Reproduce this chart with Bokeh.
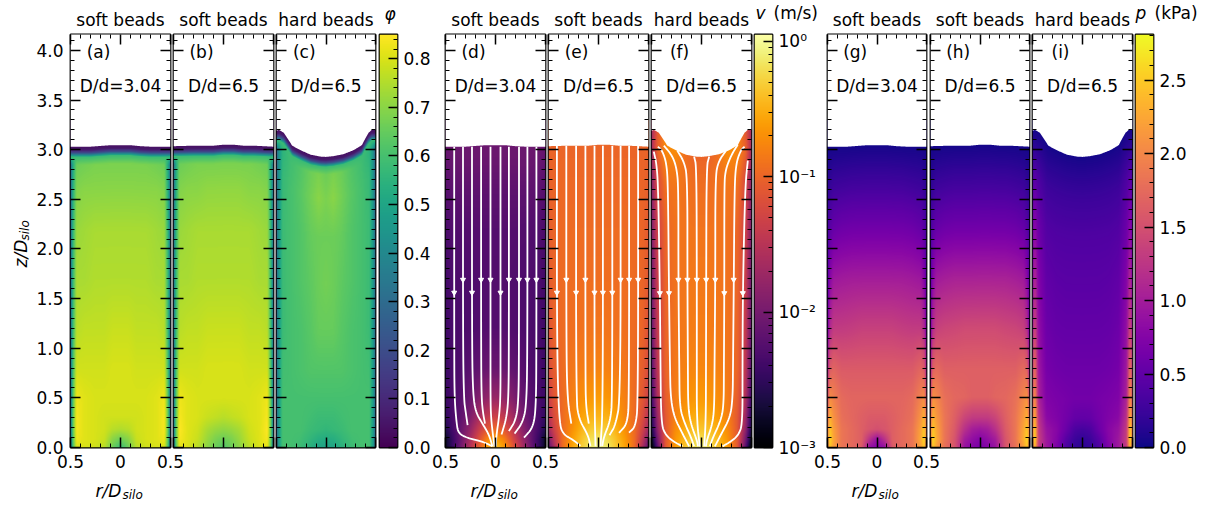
import math
import numpy as np
from bokeh.plotting import figure
from bokeh.layouts import row
from bokeh.embed import file_html
from bokeh.resources import INLINE
from bokeh.models import LinearColorMapper, Label, LinearAxis, FixedTicker, CustomLabelingPolicy
from bokeh.palettes import Viridis256, Inferno256, Plasma256

# ---- values
titles = ["soft beads", "soft beads", "hard beads"]
ratios = ["D/d=3.04", "D/d=6.5", "D/d=6.5"]
panel_tags = ["(a)", "(b)", "(c)", "(d)", "(e)", "(f)", "(g)", "(h)", "(i)"]
z_ticks = [0.0, 0.5, 1.0, 1.5, 2.0, 2.5, 3.0, 3.5, 4.0]
z_tick_labels = ["0.0", "0.5", "1.0", "1.5", "2.0", "2.5", "3.0", "3.5", "4.0"]
r_ticks = [-0.5, 0.0, 0.5]
r_tick_labels = ["0.5", "0", "0.5"]

R_NODES = [0.0, 0.08, 0.16, 0.26, 0.36, 0.44, 0.48, 0.5]
Z_NODES = [0.0, 0.08, 0.18, 0.3, 0.5, 0.8, 1.2, 1.7, 2.2, 2.6, 2.85, 3.04]
PHI_Z_NODES = Z_NODES[:-1] + [2.93, 2.97, 3.0, 3.04]
phi_band = [0.58, 0.2, 0.06, 0.03]

surf_r_soft = [-0.5, -0.3, -0.1, 0.0, 0.1, 0.2, 0.3, 0.5]
surf_z_a = [3.03, 3.03, 3.045, 3.045, 3.045, 3.035, 3.03, 3.03]
surf_z_b = [3.035, 3.04, 3.04, 3.05, 3.05, 3.04, 3.04, 3.03]
surf_r_hard = [-0.5, -0.476, -0.426, -0.376, -0.342, -0.258, -0.158, -0.057, 0.0,
               0.077, 0.178, 0.279, 0.362, 0.396, 0.43, 0.463, 0.5]
surf_z_hard = [3.19, 3.20, 3.17, 3.095, 3.04, 2.995, 2.95, 2.93, 2.927,
               2.935, 2.955, 2.995, 3.045, 3.11, 3.17, 3.20, 3.20]

phi_a = [[.58,.66,.76,.79,.80,.80,.58,.25],[.66,.70,.78,.80,.81,.83,.60,.25],[.75,.76,.79,.80,.81,.84,.62,.25],
         [.79,.79,.79,.80,.81,.84,.62,.25],[.80,.80,.80,.80,.81,.83,.60,.25],[.80,.80,.79,.79,.79,.79,.58,.25],
         [.78,.78,.77,.77,.77,.76,.56,.25],[.75,.75,.75,.75,.74,.74,.55,.25],[.74,.74,.74,.74,.73,.72,.54,.25],
         [.70,.70,.70,.70,.70,.69,.52,.25],[.68,.68,.68,.68,.67,.66,.50,.25]]
phi_b = [[.62,.66,.70,.76,.80,.82,.60,.25],[.66,.68,.72,.78,.81,.84,.62,.25],[.71,.72,.74,.79,.81,.85,.62,.25],
         [.76,.77,.78,.80,.81,.84,.62,.25],[.80,.80,.80,.80,.81,.83,.60,.25],[.80,.80,.80,.79,.79,.79,.58,.25],
         [.78,.78,.78,.77,.77,.76,.56,.25],[.75,.75,.75,.75,.74,.74,.55,.25],[.74,.74,.74,.74,.73,.72,.54,.25],
         [.71,.71,.71,.70,.70,.69,.52,.25],[.68,.68,.68,.68,.67,.66,.50,.25]]
phi_c = [[.49,.50,.54,.58,.60,.60,.46,.25],[.52,.53,.56,.59,.60,.60,.46,.25],[.56,.57,.58,.60,.60,.60,.46,.25],
         [.58,.58,.59,.60,.60,.60,.46,.25],[.60,.60,.60,.60,.60,.60,.46,.25],[.62,.62,.62,.61,.60,.59,.46,.25],
         [.65,.65,.63,.61,.60,.58,.45,.25],[.67,.66,.64,.62,.60,.58,.45,.25],[.66,.66,.65,.62,.60,.58,.44,.25],
         [.68,.70,.67,.63,.60,.57,.43,.25],[.66,.68,.66,.62,.59,.55,.42,.22]]

log_v_d = [[-.35,-.6,-1.0,-1.55,-2.1,-2.5,-2.7,-2.8],[-.55,-.75,-1.15,-1.65,-2.15,-2.5,-2.7,-2.8],
           [-.95,-1.1,-1.35,-1.8,-2.15,-2.4,-2.55,-2.6],[-1.3,-1.4,-1.6,-1.95,-2.2,-2.35,-2.45,-2.5],
           [-1.75,-1.8,-1.9,-2.1,-2.25,-2.35,-2.4,-2.45],[-2.1,-2.1,-2.15,-2.22,-2.3,-2.35,-2.4,-2.45],
           [-2.25,-2.25,-2.27,-2.3,-2.32,-2.35,-2.38,-2.42],[-2.27,-2.27,-2.28,-2.3,-2.3,-2.32,-2.35,-2.4],
           [-2.25,-2.25,-2.25,-2.26,-2.27,-2.28,-2.3,-2.35],[-2.18,-2.18,-2.18,-2.18,-2.18,-2.2,-2.22,-2.25],
           [-2.1,-2.1,-2.1,-2.1,-2.1,-2.12,-2.14,-2.18],[-2.08,-2.08,-2.08,-2.08,-2.08,-2.08,-2.1,-2.12]]
log_v_e = [[-.05,-.12,-.3,-.55,-.95,-1.6,-2.0,-2.1],[-.15,-.2,-.35,-.6,-.95,-1.45,-1.8,-1.95],
           [-.3,-.33,-.45,-.68,-.95,-1.3,-1.55,-1.7],[-.45,-.47,-.55,-.75,-.95,-1.2,-1.4,-1.5],
           [-.62,-.65,-.7,-.8,-.95,-1.1,-1.25,-1.35],[-.78,-.8,-.82,-.86,-.95,-1.05,-1.15,-1.25],
           [-.88,-.88,-.9,-.92,-.95,-1.0,-1.1,-1.2],[-.93,-.93,-.93,-.94,-.95,-1.0,-1.05,-1.15],
           [-.95,-.95,-.95,-.95,-.96,-1.0,-1.05,-1.1],[-.97,-.97,-.97,-.97,-.97,-1.0,-1.02,-1.08],
           [-.98,-.98,-.98,-.98,-.98,-1.0,-1.02,-1.05],[-1.0,-1.0,-1.0,-1.0,-1.0,-1.0,-1.0,-1.02]]
log_v_f = [[-.1,-.2,-.35,-.6,-1.1,-2.2,-2.8,-2.95],[-.2,-.28,-.42,-.65,-1.1,-2.0,-2.6,-2.85],
           [-.35,-.38,-.5,-.72,-1.1,-1.8,-2.4,-2.7],[-.47,-.5,-.6,-.78,-1.1,-1.7,-2.3,-2.6],
           [-.62,-.65,-.7,-.82,-1.05,-1.55,-2.1,-2.4],[-.75,-.75,-.78,-.85,-1.0,-1.45,-1.95,-2.3],
           [-.82,-.82,-.84,-.88,-1.0,-1.4,-1.85,-2.2],[-.85,-.85,-.87,-.9,-1.0,-1.35,-1.8,-2.1],
           [-.88,-.88,-.88,-.9,-1.0,-1.3,-1.7,-2.0],[-.92,-.92,-.9,-.88,-.92,-1.2,-1.6,-1.9],
           [-.95,-.95,-.9,-.82,-.8,-1.0,-1.4,-1.7],[-1.0,-1.0,-.92,-.7,-.72,-1.1,-1.45,-1.7]]

p_g = [[.75,.85,1.6,1.75,1.85,2.2,2.5,1.6],[.85,1.2,1.65,1.75,1.85,2.25,2.6,1.8],[1.5,1.55,1.65,1.75,1.85,2.2,2.5,1.8],
       [1.6,1.6,1.65,1.72,1.8,2.1,2.35,1.6],[1.7,1.7,1.7,1.7,1.75,1.95,2.05,1.3],[1.6,1.6,1.6,1.6,1.6,1.7,1.6,.9],
       [1.35,1.35,1.35,1.32,1.3,1.3,1.1,.55],[1.0,1.0,1.0,1.0,.98,.95,.75,.35],[.62,.62,.62,.62,.6,.55,.45,.25],
       [.32,.32,.32,.32,.3,.28,.22,.14],[.15,.15,.15,.15,.14,.13,.1,.07],[.03,.03,.03,.03,.03,.03,.03,.03]]
p_h = [[.65,.75,.9,1.55,1.8,2.2,2.5,1.6],[.75,.85,1.0,1.55,1.85,2.3,2.6,1.8],[.95,1.0,1.2,1.6,1.85,2.25,2.5,1.8],
       [1.3,1.3,1.4,1.65,1.85,2.15,2.35,1.6],[1.65,1.65,1.7,1.72,1.8,2.0,2.1,1.3],[1.65,1.65,1.65,1.65,1.65,1.75,1.65,.9],
       [1.45,1.45,1.45,1.42,1.4,1.35,1.15,.55],[1.05,1.05,1.05,1.05,1.02,.98,.78,.35],[.62,.62,.62,.62,.6,.55,.45,.25],
       [.32,.32,.32,.32,.3,.28,.22,.14],[.15,.15,.15,.15,.14,.13,.1,.07],[.03,.03,.03,.03,.03,.03,.03,.03]]
p_i = [[.15,.2,.35,.7,.95,1.3,2.5,1.4],[.18,.25,.42,.75,.95,1.35,2.7,1.6],[.3,.35,.55,.78,.9,1.3,2.6,1.6],
       [.5,.52,.62,.72,.8,1.2,2.35,1.5],[.62,.62,.65,.68,.72,1.05,2.1,1.3],[.58,.58,.58,.6,.65,.95,1.8,1.1],
       [.52,.52,.52,.53,.58,.85,1.4,.8],[.45,.45,.45,.46,.5,.72,1.1,.6],[.38,.38,.38,.38,.4,.55,.75,.45],
       [.25,.25,.25,.25,.26,.35,.45,.25],[.13,.13,.13,.13,.13,.15,.18,.15],[.03,.03,.03,.03,.03,.03,.03,.03]]

stream_d = [
    ([-.413,-.413,-.41,-.39,-.372,-.285,-.12,-.033], [3.03,1.0,.5,.25,.144,.097,.056,.013]),
    ([-.325,-.325,-.315,-.30,-.279], [3.03,1.0,.48,.37,.225]),
    ([-.235,-.235,-.225,-.2,-.13,-.065,-.03], [3.03,1.0,.55,.36,.24,.13,.01]),
    ([-.144,-.144,-.14,-.125,-.105], [3.03,1.0,.5,.35,.24]),
    ([-.05,-.05,-.05,-.045,-.025,-.01], [3.03,1.0,.5,.3,.12,.01]),
    ([.05,.05,.05,.035,.01,.003], [3.03,1.0,.5,.3,.13,.01]),
    ([.134,.134,.13,.11,.06], [3.03,1.0,.5,.3,.13]),
    ([.235,.235,.23,.2,.134], [3.03,1.0,.45,.27,.165]),
    ([.319,.319,.31,.27,.191], [3.03,1.0,.42,.25,.14]),
    ([.409,.409,.405,.375,.285], [3.03,1.0,.4,.2,.1]),
]
arrow_d_r = [-.413,-.235,.05,-.325,-.144,-.05,.134,.235,.319,.409]
arrow_d_z = [1.56,1.56,1.56,1.69,1.69,1.69,1.69,1.69,1.69,1.69]

stream_e = [
    ([-.416,-.416,-.393,-.349,-.265,-.18], [3.04,1.0,.24,.13,.084,.017]),
    ([-.322,-.322,-.31,-.272], [3.04,1.0,.478,.24]),
    ([-.224,-.224,-.198,-.104,-.08], [3.04,.5,.29,.124,.013]),
    ([-.131,-.131,-.125,-.097], [3.04,.7,.41,.24]),
    ([-.04,-.04,-.03], [3.04,.4,.013]),
    ([.044,.044,.02], [3.04,.4,.013]),
    ([.138,.138,.12,.054,.037], [3.04,.5,.275,.107,.013]),
    ([.221,.221,.17,.11], [3.04,.5,.225,.124]),
    ([.306,.306,.289,.205], [3.04,.5,.24,.147]),
    ([.396,.396,.37,.305], [3.04,.45,.21,.15]),
]
arrow_e_r = [-.416,-.224,-.04,.044,.138,-.322,-.131,.221,.306,.396]
arrow_e_z = [1.56,1.56,1.56,1.56,1.56,1.69,1.69,1.69,1.69,1.69]

stream_f = [
    ([-.477,-.45,-.433,-.416,-.41,-.403,-.359,-.275,-.19], [2.98,2.86,2.62,1.55,.8,.24,.124,.057,.012]),
    ([-.436,-.392,-.349,-.335,-.325,-.315,-.309,-.275,-.19,-.124], [3.03,2.99,2.86,2.62,1.55,.8,.51,.31,.14,.012]),
    ([-.376,-.292,-.248,-.231,-.231,-.222,-.218,-.175,-.1,-.074], [3.04,2.94,2.81,2.62,1.69,.8,.41,.26,.09,.012]),
    ([-.242,-.175,-.141,-.141,-.136,-.134,-.107,-.047,-.034], [2.99,2.88,2.72,1.69,.8,.41,.24,.074,.012]),
    ([-.074,-.05,-.047,-.047,-.047,-.017], [2.93,2.83,1.69,.8,.27,.012]),
    ([.077,.05,.047,.045,.043,.027], [2.93,2.83,1.69,.8,.27,.012]),
    ([.245,.168,.138,.138,.13,.128,.11,.054,.044], [2.99,2.88,2.72,1.69,.8,.41,.24,.074,.012]),
    ([.362,.295,.238,.228,.228,.224,.222,.188,.11,.084], [3.05,2.94,2.79,2.62,1.55,.8,.41,.26,.09,.012]),
    ([.43,.39,.346,.33,.322,.315,.312,.289,.2,.134], [3.03,2.99,2.86,2.62,1.55,.8,.51,.31,.14,.012]),
    ([.463,.436,.413,.41,.41,.37,.289,.211], [2.89,2.62,1.55,.8,.24,.124,.057,.012]),
]
arrow_f_r = [-.231,-.141,-.047,.047,.138,.322,-.416,-.325,.228,.413]
arrow_f_z = [1.69,1.69,1.69,1.69,1.69,1.69,1.555,1.555,1.555,1.555]

phi_ticks = [0.0, 0.1, 0.2, 0.3, 0.4, 0.5, 0.6, 0.7, 0.8]
v_ticks = [-3, -2, -1, 0]
v_tick_labels = ["10\u207b\u00b3", "10\u207b\u00b2", "10\u207b\u00b9", "10\u2070"]
p_ticks = [0.0, 0.5, 1.0, 1.5, 2.0, 2.5]

# ---- page geometry
TOP, FH, BOT = 34, 413, 50
Z_TOP = 4.16
FONT = "DejaVu Sans"
FS = "17px"
PAGE_W, PAGE_H = 1206, 504
frames = {"a": (70, 100), "b": (173, 100), "c": (276, 99), "cb1": (379, 18),
          "d": (445, 100), "e": (548, 100), "f": (651, 100), "cb2": (754, 18),
          "g": (827, 99), "h": (930, 99), "i": (1032, 100), "cb3": (1135, 18)}
order = ["a", "b", "c", "cb1", "d", "e", "f", "cb2", "g", "h", "i", "cb3"]
left_b = {"a": 70, "d": 16, "g": 16}
right_b = {"a": 16, "d": 16, "g": 16, "cb1": 50, "cb2": 50, "cb3": 53}
NO_LABELS = CustomLabelingPolicy(code="for (const i of Array.from(indices)) indices.unset(i); return indices;")


def margins(name):
    i = order.index(name)
    left, w = frames[name]
    L = left_b.get(name, 2)
    R = right_b.get(name, 2)
    mr = 0
    if i + 1 < len(order):
        nxt = order[i + 1]
        mr = frames[nxt][0] - left_b.get(nxt, 2) - (left + w + R)
    return L, R, mr


def shade(table, z_nodes, surf_r, surf_z, nr=100, nz=330):
    t = np.array(table, dtype=float)
    rg = (np.arange(nr) + 0.5) / nr - 0.5
    zg = (np.arange(nz) + 0.5) * 3.3 / nz
    surf = np.interp(rg, surf_r, surf_z)
    fine = np.array([np.interp(np.abs(rg), R_NODES, row_) for row_ in t])
    out = np.zeros((nz, nr))
    for j in range(nr):
        out[:, j] = np.interp(zg * 3.04 / surf[j], z_nodes, fine[:, j])
    return out


def rounded(xs, ys, passes=3):
    pts = np.column_stack([xs, ys])
    for _ in range(passes):
        a, b = pts[:-1], pts[1:]
        mid = np.empty((2 * len(a), 2))
        mid[0::2] = 0.75 * a + 0.25 * b
        mid[1::2] = 0.25 * a + 0.75 * b
        pts = np.vstack([pts[:1], mid, pts[-1:]])
    return pts[:, 0].tolist(), pts[:, 1].tolist()


def panel(name, table, z_nodes, mapper, surf_r, surf_z, tag, ratio, with_z=False, with_r=False):
    L, R, mr = margins(name)
    p = figure(frame_width=frames[name][1], frame_height=FH, min_border_left=L, min_border_right=R,
               min_border_top=TOP, min_border_bottom=BOT, x_range=(-0.5, 0.5), y_range=(0, Z_TOP),
               output_backend="svg", toolbar_location=None, margin=(0, mr, 0, 0),
               background_fill_color=None, border_fill_color=None)
    p.grid.visible = False
    p.outline_line_color = "black"
    p.outline_line_width = 1.8
    p.image(image=[shade(table, z_nodes, surf_r, surf_z)], x=-0.5, y=0, dw=1, dh=3.3, color_mapper=mapper)
    rr = np.linspace(-0.5, 0.5, 201)
    p.varea(x=rr, y1=np.interp(rr, surf_r, surf_z), y2=Z_TOP + 0.1, fill_color="white")

    minor_r = [v for v in np.round(np.arange(-0.5, 0.501, 0.1), 1) if v not in r_ticks]
    minor_z = [v for v in np.round(np.arange(0, 4.16, 0.1), 1) if v not in z_ticks]
    xt = FixedTicker(ticks=r_ticks, minor_ticks=minor_r)
    yt = FixedTicker(ticks=z_ticks, minor_ticks=minor_z)
    bottom = p.xaxis[0]
    left = p.yaxis[0]
    top = LinearAxis()
    right = LinearAxis()
    p.add_layout(top, "above")
    p.add_layout(right, "right")
    bottom.ticker = xt
    top.ticker = xt
    left.ticker = yt
    right.ticker = yt
    for ax in [bottom, top, left, right]:
        ax.axis_line_color = None
        ax.major_tick_in = 10
        ax.major_tick_out = 0
        ax.minor_tick_in = 4
        ax.minor_tick_out = 0
        ax.major_tick_line_width = 1.5
        ax.minor_tick_line_width = 1
        ax.major_tick_line_color = "black"
        ax.minor_tick_line_color = "black"
        ax.major_label_text_font = FONT
        ax.major_label_text_font_size = FS
        ax.major_label_text_color = "black"
        ax.major_label_standoff = 0
    for ax, on in [(top, False), (right, False), (bottom, with_r), (left, with_z)]:
        if not on:
            ax.major_label_text_font_size = "0px"
            ax.major_label_policy = NO_LABELS
    if with_r:
        bottom.major_label_overrides = dict(zip(r_ticks, r_tick_labels))
        bottom.major_label_standoff = 7
    if with_z:
        left.major_label_overrides = dict(zip(z_ticks, z_tick_labels))
        left.major_label_standoff = 7

    for t, x, y in [(tag, -0.22, 3.98), (ratio, 0, 3.64)]:
        p.add_layout(Label(x=x, y=y, text=t, text_font=FONT, text_font_size=FS, text_align="center",
                           text_baseline="middle", text_color="black"))
    return p


def colorbar(name, palette, low, high, ticks, labels, minors):
    L, R, mr = margins(name)
    p = figure(frame_width=18, frame_height=FH, min_border_left=L, min_border_right=R, min_border_top=TOP,
               min_border_bottom=BOT, x_range=(0, 1), y_range=(low, high), y_axis_location="right",
               x_axis_type=None, output_backend="svg", toolbar_location=None, margin=(0, mr, 0, 0),
               background_fill_color=None, border_fill_color=None)
    p.grid.visible = False
    p.outline_line_color = "black"
    p.outline_line_width = 1.8
    ramp = np.linspace(low, high, 420).reshape(-1, 1)
    p.image(image=[ramp], x=0, y=low, dw=1, dh=high - low,
            color_mapper=LinearColorMapper(palette, low=low, high=high))
    ax = p.yaxis[0]
    ax.ticker = FixedTicker(ticks=ticks, minor_ticks=minors)
    ax.major_label_overrides = dict(zip(ticks, labels))
    ax.axis_line_color = None
    ax.major_tick_in = 9
    ax.major_tick_out = 0
    ax.minor_tick_in = 4
    ax.minor_tick_out = 0
    ax.major_tick_line_width = 1.5
    ax.minor_tick_line_width = 1
    ax.major_tick_line_color = "black"
    ax.minor_tick_line_color = "black"
    ax.major_label_text_font = FONT
    ax.major_label_text_font_size = FS
    ax.major_label_text_color = "black"
    ax.major_label_standoff = 6
    return p


# Labels outside a frame get clipped, so the page-level texts sit on one full-page transparent layer on top.
layer = figure(width=PAGE_W, height=PAGE_H, min_border_left=0, min_border_right=0, min_border_top=0,
               min_border_bottom=0, x_range=(0, PAGE_W), y_range=(PAGE_H, 0),
               x_axis_type=None, y_axis_type=None, output_backend="svg", toolbar_location=None,
               margin=(0, 0, 0, -PAGE_W), background_fill_color=None, border_fill_color=None,
               outline_line_color=None, frame_align=False)
layer.grid.visible = False


def page_text(t, x, y, size=FS, align="left", style="normal", angle=0.0):
    layer.add_layout(Label(x=x, y=y, text=t, text_font=FONT, text_font_size=size, text_align=align,
                           text_baseline="middle", text_color="black", text_font_style=style, angle=angle))


for name, title in zip(["a", "b", "c", "d", "e", "f", "g", "h", "i"], titles * 3):
    page_text(title, frames[name][0] + frames[name][1] / 2, 19, align="center")
for x in (95, 470, 851):
    page_text("r/D", x, 490, style="italic")
    page_text("silo", x + 27, 494, size="12px", style="italic")
page_text("z/D", 20, 267, style="italic", angle=math.pi / 2)
page_text("silo", 24, 240, size="12px", style="italic", angle=math.pi / 2)
page_text("\u03c6", 384, 13, style="italic")
page_text("v", 755, 12, style="italic")
page_text("(m/s)", 773, 12)
page_text("p", 1135, 12, style="italic")
page_text("(kPa)", 1154, 12)

phi_map = LinearColorMapper(Viridis256, low=0, high=0.85)
v_map = LinearColorMapper(Inferno256, low=-3, high=0.05)
p_map = LinearColorMapper(Plasma256, low=0, high=2.81)


def with_band(t):
    return t + [[b] * 8 for b in phi_band]


figs = [
    panel("a", with_band(phi_a), PHI_Z_NODES, phi_map, surf_r_soft, surf_z_a, panel_tags[0], ratios[0], True, True),
    panel("b", with_band(phi_b), PHI_Z_NODES, phi_map, surf_r_soft, surf_z_b, panel_tags[1], ratios[1]),
    panel("c", with_band(phi_c), PHI_Z_NODES, phi_map, surf_r_hard, surf_z_hard, panel_tags[2], ratios[2]),
    colorbar("cb1", Viridis256, 0, 0.85, phi_ticks, ["%.1f" % t for t in phi_ticks],
             [round(i * 0.02, 2) for i in range(43) if i % 5]),
    panel("d", log_v_d, Z_NODES, v_map, surf_r_soft, surf_z_a, panel_tags[3], ratios[0], False, True),
    panel("e", log_v_e, Z_NODES, v_map, surf_r_soft, surf_z_b, panel_tags[4], ratios[1]),
    panel("f", log_v_f, Z_NODES, v_map, surf_r_hard, surf_z_hard, panel_tags[5], ratios[2]),
    colorbar("cb2", Inferno256, -3, 0.05, v_ticks, v_tick_labels,
             [d + math.log10(k) for d in (-3, -2, -1) for k in range(2, 10)]),
    panel("g", p_g, Z_NODES, p_map, surf_r_soft, surf_z_a, panel_tags[6], ratios[0], False, True),
    panel("h", p_h, Z_NODES, p_map, surf_r_soft, surf_z_b, panel_tags[7], ratios[1]),
    panel("i", p_i, Z_NODES, p_map, surf_r_hard, surf_z_hard, panel_tags[8], ratios[2]),
    colorbar("cb3", Plasma256, 0, 2.81, p_ticks, ["%.1f" % t for t in p_ticks],
             [round(i * 0.1, 1) for i in range(29) if i % 5]),
]

for idx, (streams, ar, az) in zip((4, 5, 6), [(stream_d, arrow_d_r, arrow_d_z), (stream_e, arrow_e_r, arrow_e_z),
                                              (stream_f, arrow_f_r, arrow_f_z)]):
    f = figs[idx]
    smooth = [rounded(s[0], s[1]) for s in streams]
    f.multi_line(xs=[s[0] for s in smooth], ys=[s[1] for s in smooth], line_color="white", line_width=1.8,
                 line_join="round")
    f.scatter(x=ar, y=az, marker="inverted_triangle", size=5, color="white")

layout = row(figs + [layer], spacing=0)
open("out.html", "w").write(file_html(layout, INLINE))
